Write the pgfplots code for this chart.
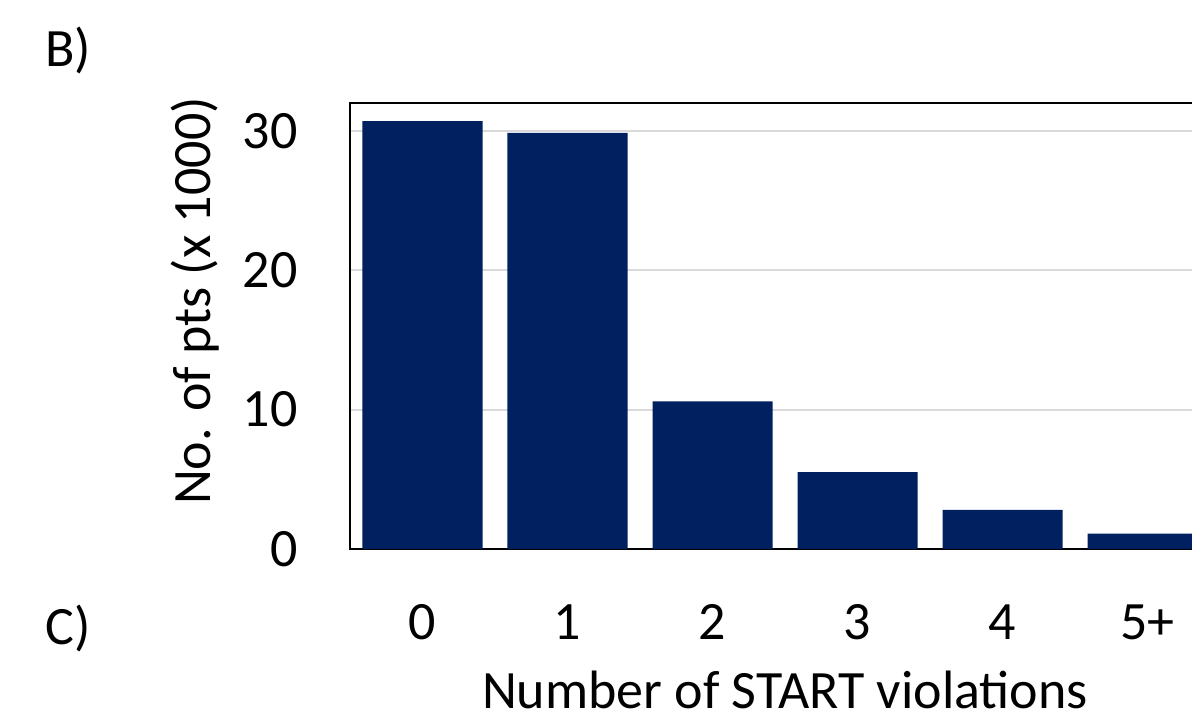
\documentclass[border=0pt]{standalone}
\usepackage{fontspec}
\setmainfont{Carlito}
\usepackage{pgfplots}
\pgfplotsset{compat=1.18}
\definecolor{barblue}{RGB}{0,32,96}
\definecolor{gridgray}{RGB}{217,217,217}
\begin{document}
\begin{tikzpicture}[font=\fontsize{27}{32}\selectfont]
\begin{scope}
\clip (-175pt,-88.5pt) rectangle (421pt,274.5pt);
\begin{axis}[
 scale only axis, width=435pt, height=223pt,
 xmin=-0.5, xmax=5.5, ymin=0, ymax=32,
 ybar, bar width=60pt,
 xtick={0,1,2,3,4,5}, xticklabels={0,1,2,3,4,5+},
 ytick={0,10,20,30},
 major tick length=0pt,
 ymajorgrids, grid style={gridgray, line width=1pt},
 axis line style={black, line width=1pt},
 /pgf/number format/assume math mode=true,
 every tick label/.append style={font=\fontsize{27}{32}\selectfont},
 yticklabel style={anchor=east, inner sep=0pt, xshift=-26pt},
 xticklabel style={anchor=center, inner sep=0pt, yshift=-36.5pt},
 xlabel={Number of START violations},
 ylabel={No. of pts (x 1000)},
 label style={font=\fontsize{27}{32}\selectfont},
 xlabel style={at={(axis description cs:0.5,0)}, anchor=center, yshift=-70.5pt, inner sep=0pt},
 ylabel style={at={(axis description cs:0,0.556)}, anchor=center, yshift=77.5pt, inner sep=0pt},
]
\addplot[fill=barblue, draw=none] coordinates {(0,30.7) (1,29.85) (2,10.6) (3,5.52) (4,2.8) (5,1.1)};
\end{axis}
\end{scope}
\node[anchor=base west, inner sep=0pt] at (-152.5pt,241pt) {B)};
\node[anchor=base west, inner sep=0pt] at (-152.5pt,-48pt) {C)};
\pgfresetboundingbox
\path[use as bounding box] (-175pt,-88.5pt) rectangle (421pt,274.5pt);
\end{tikzpicture}
\end{document}
